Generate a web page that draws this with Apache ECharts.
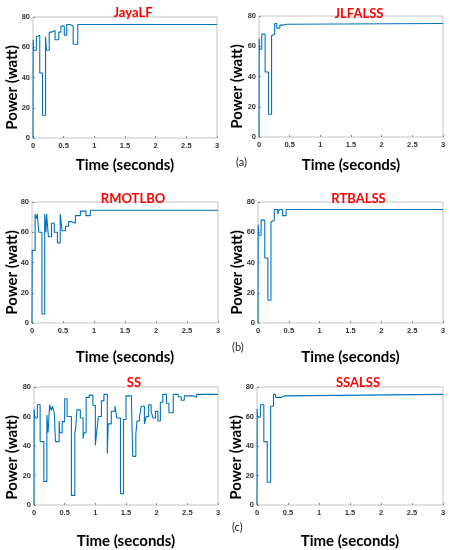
<!DOCTYPE html>
<html>
<head>
<meta charset="utf-8">
<script src="https://cdn.jsdelivr.net/npm/echarts@6/dist/echarts.min.js"></script>
<style>
  html, body {margin: 0; padding: 0; background: #fff;}
  #chart {width: 450px; height: 550px;}
</style>
</head>
<body>
<div id="chart"></div>
<script>
// step data: [time (s), power (W)] - value held until next point
const jayaLF = [[0, 0], [0.003, 65], [0.01, 58], [0.055, 67], [0.08, 68], [0.11, 43], [0.155, 15], [0.205, 67], [0.22, 58], [0.265, 70], [0.3, 71], [0.36, 65], [0.42, 70], [0.455, 74], [0.51, 68], [0.55, 75], [0.6, 74], [0.655, 62], [0.73, 75], [3, 75]];
const jlfalss = [[0, 0], [0.003, 65], [0.01, 58], [0.045, 68], [0.1, 43], [0.155, 15], [0.205, 67], [0.235, 68], [0.255, 75], [0.29, 72], [0.34, 74], [0.4, 74.5], [0.45, 75], [3, 75]];
const rmotlbo = [[0, 0], [0.003, 48], [0.05, 72], [0.075, 69], [0.085, 72], [0.11, 60], [0.16, 6], [0.205, 72], [0.225, 60], [0.235, 72], [0.265, 57], [0.315, 66], [0.36, 60], [0.41, 53], [0.455, 72], [0.485, 61], [0.54, 64], [0.59, 67], [0.64, 66], [0.7, 71], [0.78, 74], [0.87, 71], [0.94, 74.5], [3, 74.5]];
const rtbalss = [[0, 0], [0.003, 65], [0.01, 58], [0.05, 68], [0.11, 43], [0.16, 15], [0.21, 67], [0.24, 68], [0.265, 75], [0.32, 72], [0.345, 75], [0.4, 71], [0.455, 75], [3, 75]];
const ss = [[0, 0], [0.003, 65], [0.01, 59], [0.055, 68], [0.1, 43], [0.16, 16], [0.21, 61], [0.23, 49], [0.255, 68], [0.28, 64], [0.3, 67], [0.33, 63], [0.35, 43], [0.41, 57], [0.42, 49], [0.46, 56.5], [0.5, 72], [0.54, 60], [0.61, 6.5], [0.665, 48], [0.68, 52.5], [0.7, 64.5], [0.755, 59], [0.8, 45], [0.815, 49], [0.85, 73], [0.9, 74.5], [0.96, 67.5], [1.0, 40.5], [1.02, 48.7], [1.05, 60], [1.1, 70.6], [1.14, 75], [1.195, 35], [1.21, 55], [1.26, 63.6], [1.32, 67], [1.35, 59], [1.41, 7.7], [1.46, 58], [1.5, 74], [1.59, 68], [1.61, 33], [1.66, 48], [1.68, 57], [1.72, 60], [1.75, 67], [1.8, 55], [1.83, 60], [1.87, 68], [1.91, 63.5], [1.94, 59], [1.98, 63.5], [2.02, 57], [2.06, 69.7], [2.1, 75], [2.16, 69], [2.2, 62.5], [2.27, 75], [2.35, 73.4], [2.4, 71], [2.45, 74], [2.59, 73], [2.65, 75], [3, 75]];
const ssalss = [[0, 0], [0.003, 65], [0.01, 59.5], [0.055, 68], [0.11, 43], [0.165, 15.4], [0.22, 67], [0.265, 75], [0.3, 73], [0.39, 74], [0.45, 75], [3, 75]];

const panelNames = ["JayaLF", "JLFALSS", "RMOTLBO", "RTBALSS", "SS", "SSALSS"];
const panelData = [jayaLF, jlfalss, rmotlbo, rtbalss, ss, ssalss];
const xTicks = [0, 0.5, 1, 1.5, 2, 2.5, 3];
const yTicks = [0, 20, 40, 60, 80];
const xTitle = "Time (seconds)";
const yTitle = "Power (watt)";

// plot boxes: left, top, width, height, x-name gap, y-name x, title y
const boxes = [
  [33, 17, 184, 121, 20, 12, 1],
  [259, 16, 184, 121, 21, 237, 2],
  [32, 202, 186, 121, 27, 12, 187],
  [258, 202, 185, 121, 27, 237, 187],
  [34, 387, 184, 121, 29, 12, 371],
  [257, 387, 186, 121, 29, 236, 371],
];

const chart = echarts.init(document.getElementById("chart"));

const nameFont = {fontFamily: "Lato", fontWeight: "bold", fontSize: 15, color: "#000"};
const grids = [], xAxes = [], yAxes = [], series = [], titles = [], graphics = [];
boxes.forEach((b, i) => {
  grids.push({
    left: b[0], top: b[1], width: b[2], height: b[3],
    show: true, borderColor: "#c4c4c4", borderWidth: 1, backgroundColor: "#fff",
  });
  xAxes.push({
    type: "value", gridIndex: i, min: 0, max: 3, interval: 0.5,
    name: xTitle, nameLocation: "middle", nameGap: b[4],
    nameTextStyle: nameFont,
    axisLine: {show: false},
    axisTick: {show: true, inside: true, length: 2, lineStyle: {color: "#888"}},
    axisLabel: {fontSize: 7.5, fontWeight: "bold", color: "#333", margin: 4, fontFamily: "Liberation Sans",
      formatter: v => xTicks.includes(v) ? String(v) : ""},
    splitLine: {show: false},
  });
  yAxes.push({
    type: "value", gridIndex: i, min: 0, max: 80, interval: 20,
    axisLine: {show: false},
    axisTick: {show: true, inside: true, length: 2, lineStyle: {color: "#888"}},
    axisLabel: {fontSize: 7.5, fontWeight: "bold", color: "#333", margin: 3, fontFamily: "Liberation Sans",
      formatter: v => yTicks.includes(v) ? String(v) : ""},
    splitLine: {show: false},
  });
  series.push({
    type: "line", xAxisIndex: i, yAxisIndex: i, step: "end",
    data: panelData[i], showSymbol: false, animation: false,
    lineStyle: {color: "#0072BD", width: 1.1},
  });
  titles.push({
    text: panelNames[i], left: b[0] + b[2] / 2 + 3, top: b[6], textAlign: "center",
    textStyle: {color: "#ff0000", fontWeight: "bold", fontSize: 13, fontFamily: "Lato"},
  });
  // y title sits a little below the box centre, as in the source figure
  graphics.push({
    type: "text", x: b[5], y: b[1] + b[3] / 2 + 10, rotation: Math.PI / 2,
    style: {text: yTitle, fontSize: 15, fontWeight: "bold", fontFamily: "Lato", fill: "#000",
      align: "center", verticalAlign: "middle"},
  });
});

const subLabels = [["(a)", 236, 157], ["(b)", 232, 342], ["(c)", 232, 522]];
subLabels.forEach(s => graphics.push({
  type: "text", left: s[1], top: s[2],
  style: {text: s[0], fontSize: 11, fontFamily: "Lato", fill: "#222"},
}));

chart.setOption({
  backgroundColor: "#fff",
  animation: false,
  title: titles,
  grid: grids,
  xAxis: xAxes,
  yAxis: yAxes,
  series: series,
  graphic: graphics,
});
</script>
</body>
</html>
